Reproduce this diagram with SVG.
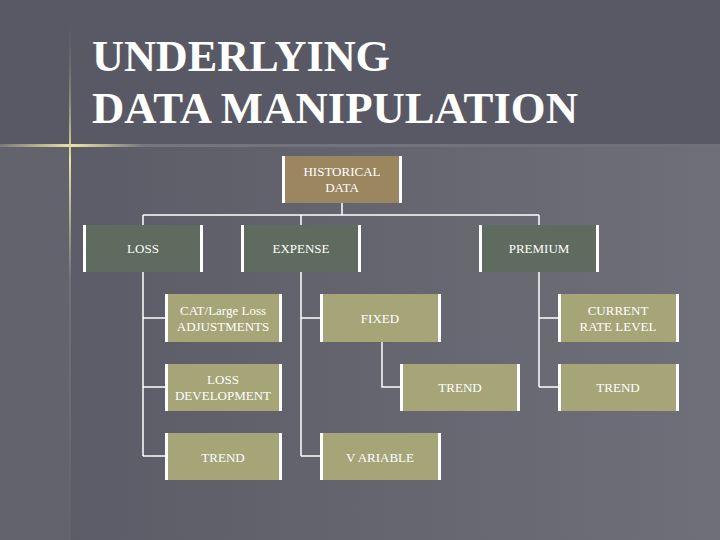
<svg xmlns="http://www.w3.org/2000/svg" width="720" height="540" viewBox="0 0 720 540">
<defs>
<linearGradient id="bg" x1="0" y1="0" x2="1" y2="0"><stop offset="0" stop-color="#5a5a66"/><stop offset="1" stop-color="#6f6f79"/></linearGradient>
<linearGradient id="vl" x1="0" y1="0" x2="0" y2="1"><stop offset="0" stop-color="#6a6a74" stop-opacity="0"/><stop offset="0.27" stop-color="#e8e6a0"/><stop offset="0.5" stop-color="#70707a"/><stop offset="1" stop-color="#70707a" stop-opacity="0.3"/></linearGradient>
<linearGradient id="hl" x1="0" y1="0" x2="1" y2="0"><stop offset="0" stop-color="#e8e6a0" stop-opacity="0.2"/><stop offset="0.1" stop-color="#e8e6a0"/><stop offset="0.2" stop-color="#75757f"/><stop offset="1" stop-color="#70707a"/></linearGradient>
<style>
.t{font-family:"Liberation Serif",serif;font-size:13px;fill:#ffffff;text-anchor:middle}
.h{fill:#9b8660}.m{fill:#5f6b5e}.l{fill:#a5a578}
.e{fill:#ffffff}
.c{stroke:#ffffff;stroke-width:1.5;fill:none}
</style>
</defs>
<rect width="720" height="540" fill="url(#bg)"/>
<rect width="720" height="145" fill="#595965"/>
<rect x="0" y="145" width="70" height="395" fill="#63636d"/>
<rect x="0" y="144" width="720" height="3" fill="url(#hl)"/>
<rect x="69" y="20" width="2" height="520" fill="url(#vl)"/>
<g font-family="Liberation Serif,serif" font-weight="bold" font-size="44" fill="#ffffff">
<text x="92" y="71" textLength="298" lengthAdjust="spacingAndGlyphs">UNDERLYING</text>
<text x="92" y="123" textLength="486" lengthAdjust="spacingAndGlyphs">DATA MANIPULATION</text>
</g>
<g id="connectors" class="c">
<path d="M342 203V215M143 215H539M143 215V225M301 215V225M539 215V225"/>
<path d="M143 272V456M143 318H165M143 387H165M143 456H165"/>
<path d="M301 272V456M301 318H320M301 456H320"/>
<path d="M382 342V387H400"/>
<path d="M539 272V387M539 318H558M539 387H558"/>
</g>
<g id="historical"><rect class="h" x="282" y="156" width="120" height="47"/><rect class="e" x="282" y="156" width="3" height="47"/><rect class="e" x="399" y="156" width="3" height="47"/><text class="t" x="342" y="176">HISTORICAL</text><text class="t" x="342" y="192">DATA</text></g>
<g id="loss"><rect class="m" x="83" y="225" width="120" height="47"/><rect class="e" x="83" y="225" width="3" height="47"/><rect class="e" x="200" y="225" width="3" height="47"/><text class="t" x="143" y="253">LOSS</text></g>
<g id="expense"><rect class="m" x="241" y="225" width="120" height="47"/><rect class="e" x="241" y="225" width="3" height="47"/><rect class="e" x="358" y="225" width="3" height="47"/><text class="t" x="301" y="253">EXPENSE</text></g>
<g id="premium"><rect class="m" x="479" y="225" width="120" height="47"/><rect class="e" x="479" y="225" width="3" height="47"/><rect class="e" x="596" y="225" width="3" height="47"/><text class="t" x="539" y="253">PREMIUM</text></g>
<g id="cat"><rect class="l" x="165" y="294" width="117" height="48"/><rect class="e" x="165" y="294" width="3" height="48"/><rect class="e" x="279" y="294" width="3" height="48"/><text class="t" x="223" y="315">CAT/Large Loss</text><text class="t" x="223" y="331">ADJUSTMENTS</text></g>
<g id="lossdev"><rect class="l" x="165" y="364" width="117" height="47"/><rect class="e" x="165" y="364" width="3" height="47"/><rect class="e" x="279" y="364" width="3" height="47"/><text class="t" x="223" y="384">LOSS</text><text class="t" x="223" y="400">DEVELOPMENT</text></g>
<g id="losstrend"><rect class="l" x="165" y="433" width="117" height="47"/><rect class="e" x="165" y="433" width="3" height="47"/><rect class="e" x="279" y="433" width="3" height="47"/><text class="t" x="223" y="462">TREND</text></g>
<g id="fixed"><rect class="l" x="320" y="294" width="121" height="48"/><rect class="e" x="320" y="294" width="3" height="48"/><rect class="e" x="438" y="294" width="3" height="48"/><text class="t" x="380" y="323">FIXED</text></g>
<g id="fixedtrend"><rect class="l" x="400" y="364" width="120" height="47"/><rect class="e" x="400" y="364" width="3" height="47"/><rect class="e" x="517" y="364" width="3" height="47"/><text class="t" x="460" y="392">TREND</text></g>
<g id="variable"><rect class="l" x="320" y="433" width="121" height="47"/><rect class="e" x="320" y="433" width="3" height="47"/><rect class="e" x="438" y="433" width="3" height="47"/><text class="t" x="380" y="462">V ARIABLE</text></g>
<g id="current"><rect class="l" x="558" y="294" width="121" height="48"/><rect class="e" x="558" y="294" width="3" height="48"/><rect class="e" x="676" y="294" width="3" height="48"/><text class="t" x="618" y="315">CURRENT</text><text class="t" x="618" y="331">RATE LEVEL</text></g>
<g id="premtrend"><rect class="l" x="558" y="364" width="121" height="47"/><rect class="e" x="558" y="364" width="3" height="47"/><rect class="e" x="676" y="364" width="3" height="47"/><text class="t" x="618" y="392">TREND</text></g>
</svg>
